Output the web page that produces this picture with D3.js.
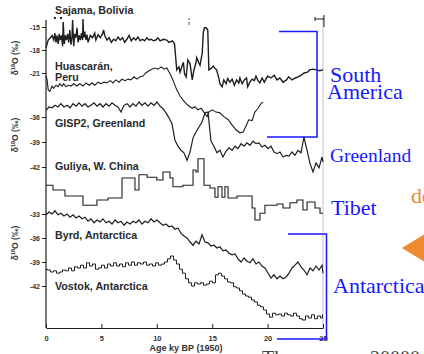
<!DOCTYPE html>
<html>
<head>
<meta charset="utf-8">
<script src="https://cdn.jsdelivr.net/npm/d3@7"></script>
<style>
  body { margin: 0; background: #fff; overflow: hidden; }
  svg { display: block; }
</style>
</head>
<body>
<svg id="chart" width="424" height="354"></svg>
<script>
// ages (ky BP) shared by GISP2, Byrd and Vostok
const AGE_GRID = [0,0.27,0.54,0.81,1.08,1.35,1.62,1.9,2.17,2.44,
  2.71,2.98,3.25,3.52,3.79,4.06,4.33,4.6,4.87,5.14,
  5.42,5.69,5.96,6.23,6.5,6.77,7.04,7.31,7.58,7.85,
  8.12,8.39,8.66,8.93,9.21,9.48,9.75,10.02,10.29,10.56,
  10.83,11.1,11.37,11.64,11.91,12.18,12.45,12.73,13.0,13.27,
  13.54,13.81,14.08,14.35,14.62,14.89,15.16,15.43,15.7,15.97,
  16.25,16.52,16.79,17.06,17.33,17.6,17.87,18.14,18.41,18.68,
  18.95,19.22,19.49,19.76,20.04,20.31,20.58,20.85,21.12,21.39,
  21.66,21.93,22.2,22.47,22.74,23.01,23.28,23.56,23.83,24.1,
  24.37,24.64,24.91,25];

const GISP2 = [-35.2,-34.8,-34.9,-34.6,-34.8,-34.4,-34.8,-34.6,-34.9,-34.4,
  -34.7,-34.3,-34.7,-34.4,-34.8,-34.6,-34.3,-34.7,-34.4,-34.8,
  -34.4,-34.7,-34.3,-34.6,-34.8,-35.4,-34.6,-34.4,-34.8,-34.4,
  -34.7,-34.2,-34.6,-34.3,-34.7,-34.3,-34.6,-34.2,-34.7,-35.0,
  -35.5,-36.1,-36.8,-38.8,-39.5,-40.0,-40.3,-41.2,-40.2,-38.5,
  -37.8,-37.2,-36.6,-35.5,-35.4,-38.9,-39.5,-40.3,-40.0,-40.8,
  -40.1,-39.7,-40.0,-39.5,-39.8,-39.2,-39.5,-39.1,-39.4,-38.9,
  -39.2,-39.1,-39.6,-39.4,-39.8,-39.5,-40.2,-40.4,-40.2,-40.8,
  -40.6,-40.7,-40.2,-40.6,-40.0,-40.3,-38.4,-40.0,-41.6,-42.6,
  -41.5,-42.1,-40.8,-41.4];

const BYRD = [-33.1,-32.75,-33.0,-32.6,-33.1,-32.9,-33.25,-33.0,-33.4,-33.1,
  -33.5,-33.25,-33.6,-33.4,-33.9,-33.6,-34.1,-33.75,-34.0,-33.6,
  -34.1,-33.9,-34.25,-33.75,-34.1,-33.9,-34.4,-34.0,-34.25,-33.9,
  -34.1,-33.75,-34.25,-33.9,-34.1,-33.6,-34.0,-33.75,-34.1,-34.4,
  -34.25,-34.6,-34.5,-34.9,-34.75,-35.4,-35.75,-36.0,-36.5,-36.9,
  -36.4,-36.75,-35.6,-36.5,-36.6,-37.0,-36.9,-37.25,-37.1,-37.6,
  -37.5,-37.9,-38.1,-38.0,-38.6,-39.0,-38.5,-38.9,-39.1,-38.6,
  -39.25,-39.0,-39.5,-39.75,-40.4,-41.0,-40.6,-41.1,-40.75,-41.1,
  -40.9,-40.4,-39.75,-39.4,-39.0,-39.6,-40.0,-40.6,-39.75,-40.1,
  -39.5,-40.0,-39.4,-40.4];

const VOSTOK = [-39.9,-40.0,-40.25,-40.1,-40.4,-40.25,-40.0,-40.1,-39.75,-40.1,
  -39.6,-39.75,-39.4,-39.75,-39.1,-39.5,-39.25,-39.9,-39.75,-39.4,
  -39.75,-39.25,-39.5,-39.1,-39.5,-39.25,-39.6,-39.1,-39.4,-39.0,
  -39.4,-39.1,-39.25,-39.0,-39.4,-39.25,-39.5,-39.1,-39.4,-39.25,
  -39.0,-38.6,-38.25,-38.75,-39.25,-39.9,-40.4,-41.1,-41.6,-42.0,
  -41.6,-41.75,-41.6,-41.9,-41.75,-41.4,-41.6,-40.6,-40.4,-40.75,
  -41.1,-41.5,-41.6,-42.1,-42.25,-42.6,-43.0,-43.25,-43.4,-43.75,
  -44.0,-44.4,-44.6,-45.0,-45.5,-45.9,-45.4,-45.6,-45.5,-45.75,
  -45.4,-45.6,-45.75,-45.4,-45.75,-46.1,-46.25,-45.75,-46.0,-45.6,
  -46.1,-45.75,-46.0,-45.6];

// [age, d18O]
const SAJAMA = [[0,-17.7],[0.2,-16.7],[0.4,-16.4],[0.55,-16.1],[0.7,-16.7],[0.8,-15.8],[0.9,-17.0],[1.0,-16.1],
  [1.1,-17.2],[1.2,-15.9],[1.3,-16.7],[1.4,-16.1],[1.5,-17.5],[1.55,-14.35],[1.65,-17.2],[1.75,-16.1],
  [1.85,-16.7],[1.95,-15.9],[2.05,-17.0],[2.15,-15.4],[2.25,-17.3],[2.35,-16.3],[2.4,-14.1],[2.5,-17.5],
  [2.6,-15.9],[2.7,-16.4],[2.8,-15.1],[2.9,-17.0],[3.0,-16.1],[3.1,-16.7],[3.2,-15.8],[3.3,-16.7],
  [3.34,-13.95],[3.4,-16.4],[3.5,-15.6],[3.6,-16.7],[3.7,-16.0],[3.8,-17.0],[4.0,-16.1],[4.2,-16.4],
  [4.4,-15.8],[4.5,-16.7],[4.7,-16.0],[4.9,-16.4],[5.1,-15.9],[5.2,-15.4],[5.3,-16.1],[5.5,-16.7],
  [5.7,-16.4],[5.9,-17.0],[6.1,-16.6],[6.3,-16.8],[6.5,-16.3],[6.7,-16.7],[6.9,-16.4],[7.1,-17.0],
  [7.3,-16.6],[7.5,-16.1],[7.7,-16.8],[7.9,-16.4],[8.1,-16.7],[8.3,-16.3],[8.5,-16.8],[8.7,-16.6],
  [8.9,-16.8],[9.1,-16.4],[9.3,-16.7],[9.5,-16.6],[9.7,-16.8],[9.9,-16.7],[10.1,-16.4],[10.3,-16.8],
  [10.6,-16.6],[10.9,-16.7],[11.1,-17.0],[11.4,-16.8],[11.6,-17.2],[11.8,-20.6],[12.0,-20.2],[12.1,-20.9],
  [12.3,-20.0],[12.4,-19.6],[12.5,-21.1],[12.65,-21.5],[12.8,-19.3],[13.0,-19.8],[13.2,-21.9],[13.35,-20.6],
  [13.55,-19.6],[13.6,-19.0],[13.8,-19.7],[13.9,-20.0],[14.1,-18.4],[14.2,-15.7],[14.3,-15.1],[14.45,-15.1],
  [14.6,-15.4],[14.7,-20.6],[14.9,-20.4],[15.1,-20.1],[15.25,-20.4],[15.4,-20.6],[15.6,-21.7],[15.7,-22.4],
  [15.9,-22.8],[16.05,-21.9],[16.25,-22.4],[16.4,-21.7],[16.6,-22.2],[16.8,-21.8],[17.0,-22.6],[17.2,-21.9],
  [17.4,-22.3],[17.5,-21.65],[17.7,-22.4],[17.9,-21.9],[18.1,-21.65],[18.2,-22.8],[18.4,-22.2],[18.6,-21.8],
  [18.8,-22.0],[18.95,-21.4],[19.1,-21.9],[19.3,-22.3],[19.5,-21.65],[19.7,-22.2],[19.85,-21.8],[20.0,-21.4],
  [20.3,-21.65],[20.6,-21.3],[20.85,-21.9],[21.1,-21.65],[21.4,-22.2],[21.7,-21.9],[21.9,-21.5],[22.2,-21.9],
  [22.5,-21.65],[22.75,-21.5],[23.0,-21.3],[23.3,-21.0],[23.6,-20.9],[23.8,-20.6],[24.1,-20.5],[24.4,-20.6],
  [24.7,-20.7],[25.0,-20.6]];

const HUASCARAN = [[0,-21.3],[0.1,-21.9],[0.2,-23.2],[0.35,-23.4],[0.55,-22.7],[0.7,-23.0],[0.9,-22.6],[1.1,-22.8],
  [1.25,-22.4],[1.45,-22.7],[1.6,-22.4],[1.8,-22.8],[2.0,-22.6],[2.25,-22.7],[2.5,-22.4],[2.8,-22.7],
  [3.05,-22.4],[3.35,-22.7],[3.6,-22.3],[3.9,-22.6],[4.15,-22.3],[4.4,-22.6],[4.7,-22.2],[4.95,-22.4],
  [5.25,-22.2],[5.5,-22.3],[5.8,-22.0],[6.05,-22.3],[6.3,-21.9],[6.6,-22.2],[6.85,-21.8],[7.15,-22.0],
  [7.4,-21.8],[7.65,-21.9],[7.95,-21.5],[8.2,-21.8],[8.5,-21.5],[8.75,-21.4],[9.0,-21.0],[9.3,-20.7],
  [9.55,-20.5],[9.85,-20.35],[10.1,-20.5],[10.4,-20.2],[10.65,-20.5],[10.9,-20.35],[11.2,-21.1],[11.45,-21.9],
  [11.8,-23.2],[12.1,-24.0],[12.35,-24.5],[12.65,-25.0],[12.9,-25.3],[13.2,-25.6],[13.45,-25.4],[13.7,-25.8],
  [14.0,-25.6],[14.25,-26.1],[14.55,-26.7],[14.7,-26.1],[15.0,-25.8],[15.35,-26.1],[15.7,-26.2],[16.05,-26.7],
  [16.45,-27.1],[16.8,-27.8],[17.15,-28.4],[17.5,-28.8],[17.8,-28.7],[18.05,-27.9],[18.3,-27.1],[18.6,-27.2],
  [18.85,-26.1],[19.15,-25.6],[19.4,-25.0],[19.6,-24.8]];

// stepped record, each value holds until the next age
const GULIYA = [[0,-14.4],[0.63,-15.0],[1.71,-15.75],[3.34,-16.9],[4.6,-16.25],[5.6,-16.0],[6.86,-13.5],[8.03,-15.0],
  [8.39,-13.1],[9.12,-13.4],[10.0,-13.75],[10.56,-12.75],[11.19,-13.5],[11.46,-14.6],[12.36,-14.4],[13.27,-12.5],
  [13.54,-12.75],[13.72,-11.1],[14.26,-14.4],[14.8,-14.75],[15.25,-15.9],[15.52,-14.6],[15.88,-15.9],[16.15,-14.6],
  [16.43,-16.0],[17.24,-15.75],[18.6,-17.25],[18.86,-18.75],[19.31,-17.9],[19.76,-16.9],[20.85,-16.75],[21.39,-17.25],
  [22.02,-16.6],[22.65,-16.25],[23.19,-17.5],[23.56,-16.5],[24.28,-17.25],[24.73,-17.9],[25,-17.9]];

const AGE_TICKS = [0, 5, 10, 15, 20, 25];
const TICKS_TOP = [-15, -18, -21];
const TICKS_MID = [-36, -39, -42];
const TICKS_BOT = [-33, -36, -39, -42];
const SITE_LABELS = ['Sajama, Bolivia', 'Huascarán,', 'Peru', 'GISP2, Greenland',
  'Guliya, W. China', 'Byrd, Antarctica', 'Vostok, Antarctica'];
const REGION_LABELS = ['South', 'America', 'Greenland', 'Tibet', 'Antarctica'];

const svg = d3.select('#chart');
const INK = '#1e1e1e';
const BLUE = '#1818ff';
const ORANGE = '#f08a30';
const SANS = '"Liberation Sans", Arial, sans-serif';
const SERIF = '"Liberation Serif", "Times New Roman", serif';

const x    = d3.scaleLinear().domain([0, 25]).range([46, 323]);
const yTop = d3.scaleLinear().domain([-15, -21]).range([27, 73]);
const yMid = d3.scaleLinear().domain([-36, -42]).range([117, 167]);
const yGul = d3.scaleLinear().domain([-10, -20]).range([150, 230]);
const yBot = d3.scaleLinear().domain([-33, -42]).range([214, 286]);

// faint right frame + marker at top
svg.append('line').attr('x1', x(25)).attr('x2', x(25)).attr('y1', 16).attr('y2', 328)
  .attr('stroke', '#c4c4c4').attr('stroke-width', 1);
svg.append('path').attr('d', 'M315,19H324M324,15V27M315,17V21')
  .attr('stroke', INK).attr('stroke-width', 1).attr('fill', 'none');
svg.append('path').attr('d', 'M189,18V20M189,22V25')
  .attr('stroke', '#555').attr('stroke-width', 1);
svg.selectAll('rect.dot').data([0.8, 1.35]).join('rect').attr('class', 'dot')
  .attr('x', d => x(d) - 1).attr('y', 17).attr('width', 2).attr('height', 2).attr('fill', INK);

// left axis
svg.append('line').attr('x1', x(0)).attr('x2', x(0)).attr('y1', 20).attr('y2', 328)
  .attr('stroke', INK).attr('stroke-width', 1.2);

function leftAxis(scale, ticks, minor) {
  const g = svg.append('g').attr('transform', `translate(${x(0)},0)`);
  g.call(d3.axisLeft(scale).tickValues(minor).tickSize(2).tickFormat(''));
  g.call(d3.axisLeft(scale).tickValues(ticks).tickSize(4).tickPadding(2).tickFormat(d => String(d)));
  g.selectAll('.domain').remove();
  g.selectAll('line').attr('stroke', INK);
  g.selectAll('text').attr('font-family', SANS).attr('font-weight', 'bold')
    .attr('font-size', 7).attr('fill', '#333');
}
leftAxis(yTop, TICKS_TOP, d3.range(-14, -23, -1));
leftAxis(yMid, TICKS_MID, d3.range(-35, -44, -1));
leftAxis(yBot, TICKS_BOT, d3.range(-32, -45, -1));

// bottom axis
const xg = svg.append('g').attr('transform', 'translate(0,328)');
xg.call(d3.axisBottom(x).tickValues(d3.range(0, 26)).tickSize(-2.5).tickFormat(''));
xg.call(d3.axisBottom(x).tickValues(AGE_TICKS).tickSizeInner(-4).tickSizeOuter(0).tickPadding(8));
xg.selectAll('.domain').attr('stroke', INK).attr('stroke-width', 1.2);
xg.selectAll('line').attr('stroke', INK);
xg.selectAll('text').attr('font-family', SANS).attr('font-weight', 'bold')
  .attr('font-size', 7.5).attr('fill', '#333');

svg.append('text').attr('x', 186).attr('y', 351).attr('text-anchor', 'middle')
  .attr('font-family', SANS).attr('font-weight', 'bold').attr('font-size', 9).attr('fill', '#333')
  .text('Age ky BP (1950)');

// y labels
[58, 135, 243].forEach(cy => {
  const t = svg.append('text').attr('transform', `translate(18,${cy}) rotate(-90)`)
    .attr('text-anchor', 'middle').attr('font-family', SANS).attr('font-weight', 'bold')
    .attr('font-size', 8.5).attr('fill', '#333');
  t.append('tspan').text('δ');
  t.append('tspan').attr('dy', -3).attr('font-size', 5.5).text('18');
  t.append('tspan').attr('dy', 3).text('O (‰)');
});

// records
const grid = vals => AGE_GRID.map((a, i) => [a, vals[i]]);
const records = [
  { data: SAJAMA,     y: yTop, curve: d3.curveLinear,    w: 1.4 },
  { data: HUASCARAN,  y: yTop, curve: d3.curveLinear,    w: 1.1 },
  { data: grid(GISP2), y: yMid, curve: d3.curveLinear,   w: 1.2 },
  { data: GULIYA,     y: yGul, curve: d3.curveStepAfter, w: 1.1 },
  { data: grid(BYRD), y: yBot, curve: d3.curveLinear,    w: 1.2 },
  { data: grid(VOSTOK), y: yBot, curve: d3.curveStep,    w: 1.0 },
];
records.forEach(r => {
  const line = d3.line().x(d => x(d[0])).y(d => r.y(d[1])).curve(r.curve);
  svg.append('path').datum(r.data).attr('d', line)
    .attr('fill', 'none').attr('stroke', INK).attr('stroke-width', r.w)
    .attr('stroke-linejoin', 'miter');
});

// site labels
const labelY = [14, 70, 81, 127, 170, 239, 290];
svg.selectAll('text.site').data(SITE_LABELS).join('text').attr('class', 'site')
  .attr('x', 55).attr('y', (d, i) => labelY[i])
  .attr('font-family', SANS).attr('font-weight', 'bold').attr('font-size', 10.7)
  .attr('fill', '#2a2a2a').text(d => d);

// blue brackets
svg.append('path').attr('d', 'M279,31.5H317V137H267')
  .attr('fill', 'none').attr('stroke', BLUE).attr('stroke-width', 1.5);
svg.append('path').attr('d', 'M288,234H326.5V339H277')
  .attr('fill', 'none').attr('stroke', BLUE).attr('stroke-width', 1.5);

// region labels
const regionPos = [[330, 82, 22], [327, 99, 22], [330, 162, 19.5], [331, 215, 22], [333, 293, 22]];
svg.selectAll('text.region').data(REGION_LABELS).join('text').attr('class', 'region')
  .attr('x', (d, i) => regionPos[i][0]).attr('y', (d, i) => regionPos[i][1])
  .attr('font-size', (d, i) => regionPos[i][2])
  .attr('font-family', SERIF).attr('fill', BLUE).text(d => d);

// orange bits of the slide
svg.append('text').attr('x', 411).attr('y', 203).attr('font-family', SERIF)
  .attr('font-size', 22).attr('fill', ORANGE).text('de');
svg.append('path').attr('d', 'M402,248L428,232V264Z').attr('fill', ORANGE);

// slide caption cut at the bottom edge
svg.append('text').attr('x', 262).attr('y', 365).attr('font-family', SERIF)
  .attr('font-size', 20).attr('fill', '#444').text('The');
svg.append('text').attr('x', 370).attr('y', 365).attr('font-family', SERIF)
  .attr('font-size', 20).attr('fill', '#444').text('20000');
</script>
</body>
</html>
